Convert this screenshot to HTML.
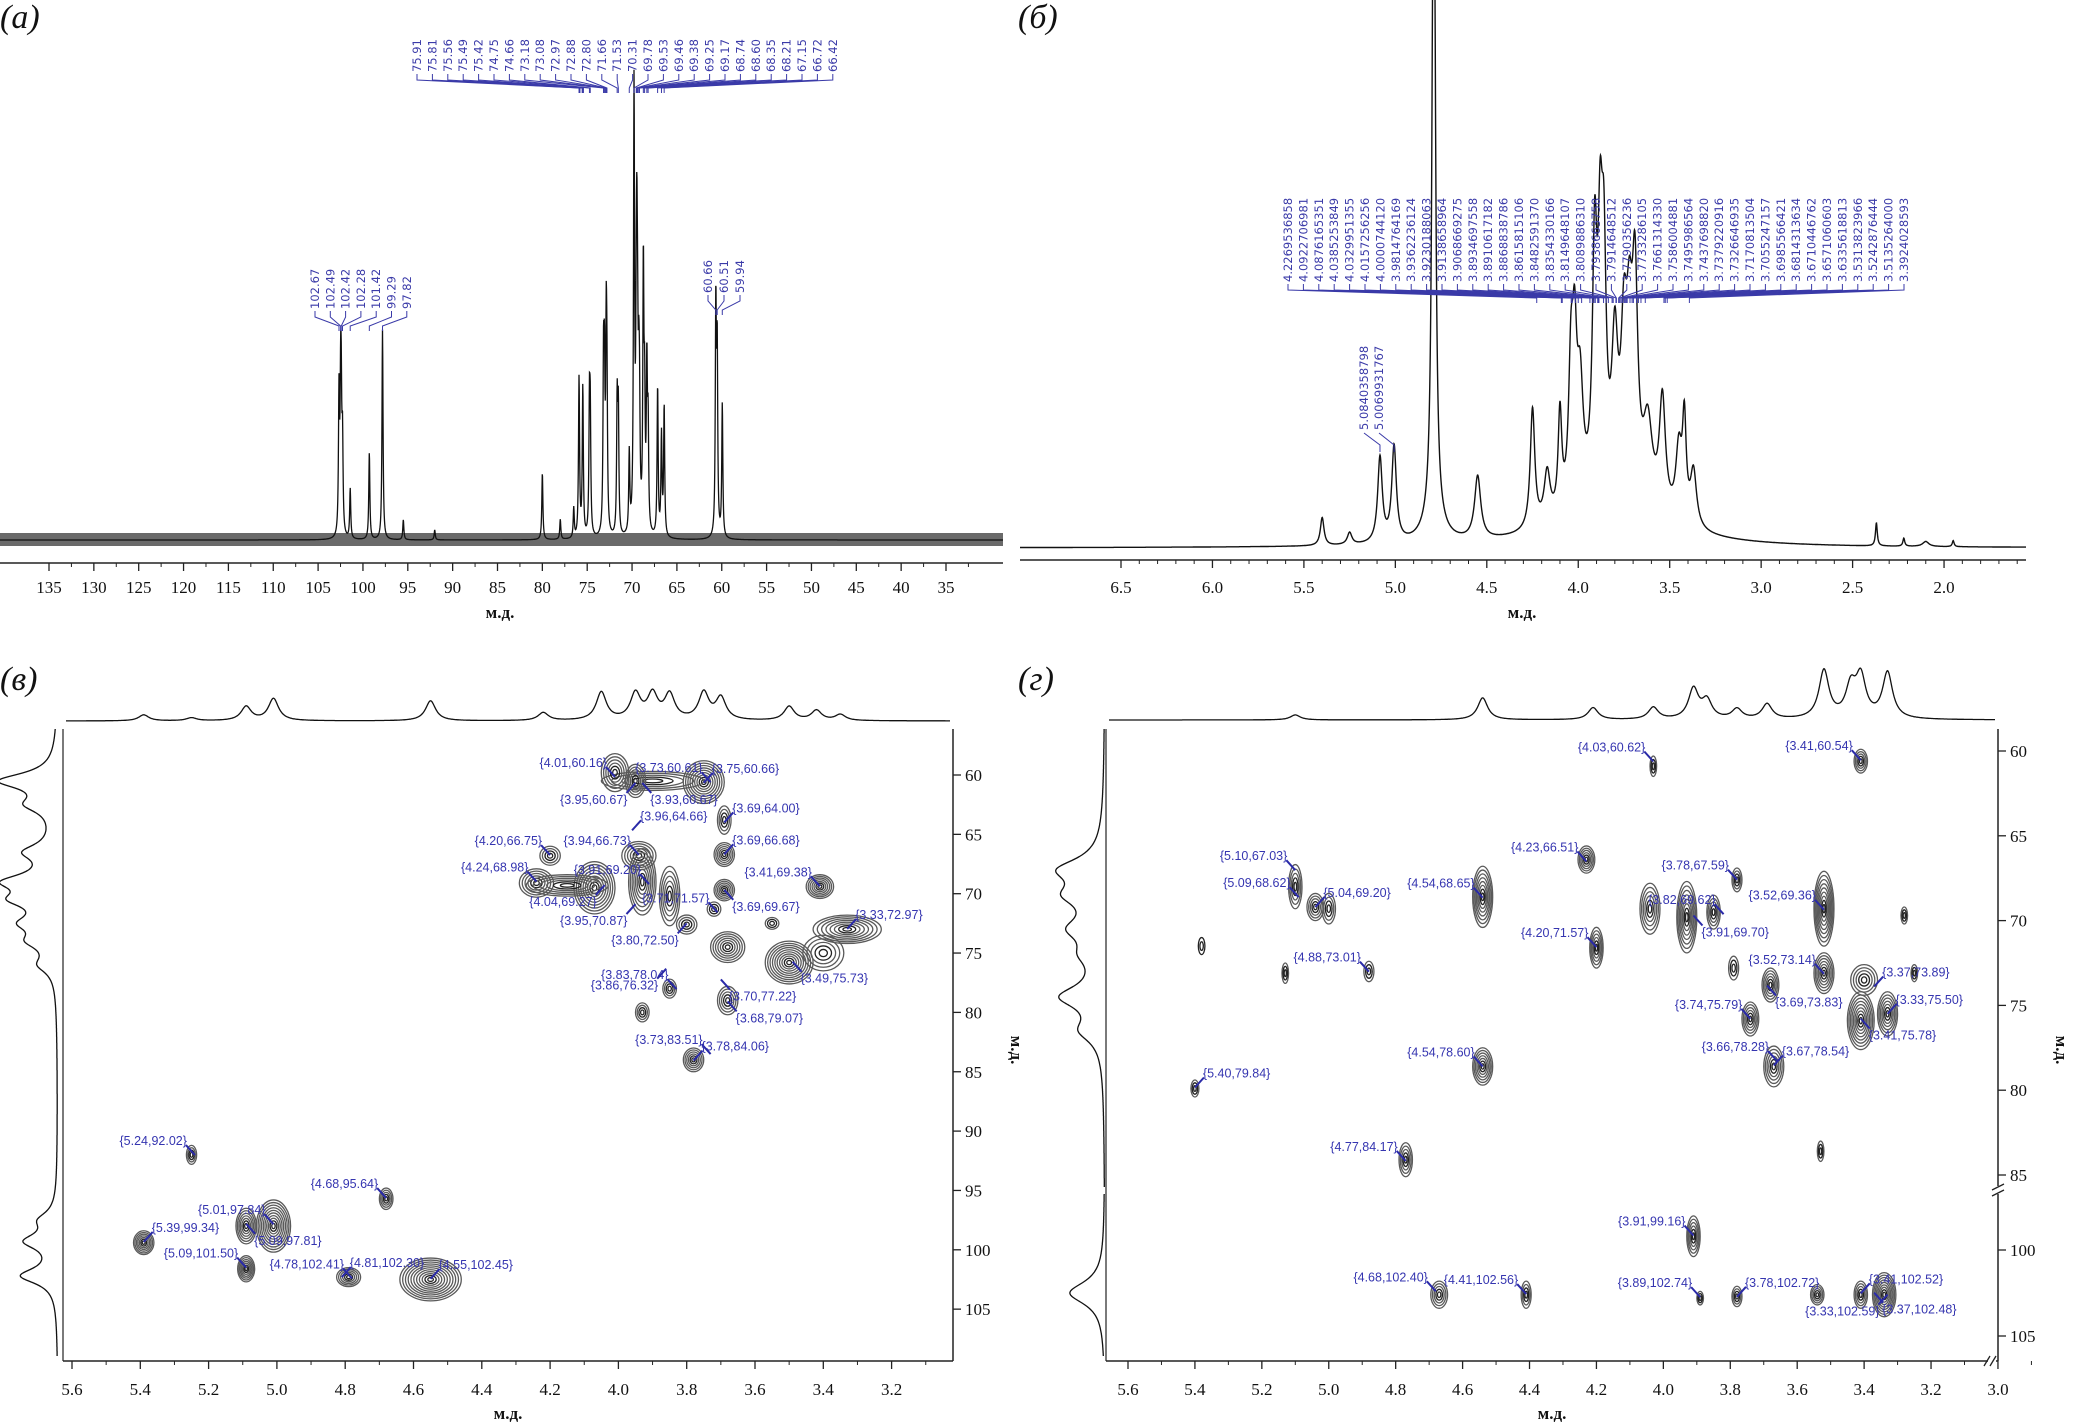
<!DOCTYPE html>
<html><head><meta charset="utf-8"><style>
html,body{margin:0;padding:0;background:#fff}
svg{display:block}
.tk{font-family:"Liberation Serif",serif;font-size:17px;fill:#111}
.lt{font-family:"Liberation Serif",serif;font-size:17px;font-weight:bold;fill:#111}
.pl{font-family:"Liberation Serif",serif;font-size:34px;font-style:italic;fill:#111}
.bl{font-family:"DejaVu Sans",sans-serif;font-size:11.5px;fill:#3a3aa8}
.cl{font-family:"Liberation Sans Narrow","Liberation Sans",sans-serif;font-size:12.5px;fill:#3535b0}
</style></head><body>
<svg id="fig" width="2081" height="1424" viewBox="0 0 2081 1424" xmlns="http://www.w3.org/2000/svg">
<text class="pl" x="0" y="28">(а)</text>
<text class="pl" x="1018" y="28">(б)</text>
<text class="pl" x="0" y="690">(в)</text>
<text class="pl" x="1018" y="690">(г)</text>
</svg>
<script>
// ---------- data ----------
const cPeaksPpm=[102.67,102.49,102.42,102.28,101.42,99.29,97.82,95.5,92,80,78,76.5,75.91,75.49,74.75,74.66,73.18,73.08,72.88,72.80,71.66,71.53,70.31,69.78,69.53,69.46,69.38,69.25,69.17,68.74,68.60,68.35,68.21,67.15,66.72,66.42,60.66,60.51,59.94];
const cPeaksInt=[140,120,110,90,50,87,210,20,10,67,20,30,160,150,120,110,155,140,180,120,130,120,80,440,150,200,120,110,100,260,120,160,100,150,100,130,227,180,133];
const cLabTop=["75.91","75.81","75.56","75.49","75.42","74.75","74.66","73.18","73.08","72.97","72.88","72.80","71.66","71.53","70.31","69.78","69.53","69.46","69.38","69.25","69.17","68.74","68.60","68.35","68.21","67.15","66.72","66.42"];
const cLabLeft=["102.67","102.49","102.42","102.28","101.42","99.29","97.82"];
const cLabRight=["60.66","60.51","59.94"];
const cTicks=[135,130,125,120,115,110,105,100,95,90,85,80,75,70,65,60,55,50,45,40,35];

const hPeaksPpm=[5.40,5.25,5.084,5.007,4.79,4.79,4.55,4.25,4.17,4.10,4.04,4.02,3.99,3.91,3.88,3.86,3.80,3.75,3.72,3.69,3.62,3.54,3.45,3.42,3.37,2.37,2.22,2.10,1.95,3.80];
const hPeaksInt=[28,12,85,95,800,20,63,120,50,100,130,140,110,235,210,200,140,140,135,200,80,113,70,95,55,23,8,5,6,40];
const hPeaksW=[0.012,0.015,0.015,0.015,0.01,0.06,0.02,0.015,0.02,0.012,0.015,0.015,0.02,0.015,0.015,0.015,0.02,0.02,0.02,0.018,0.03,0.02,0.02,0.012,0.02,0.006,0.006,0.02,0.006,0.3];
const hLabels=["4.2269536858","4.0922706981","4.0876165351","4.0385253849","4.0329951355","4.0157256256","4.0000744120","3.9814764169","3.9362236124","3.9230188063","3.9138658964","3.9068669275","3.8934697558","3.8910617182","3.8868838786","3.8615815106","3.8482591370","3.8354330166","3.8149648107","3.8089886310","3.7938663758","3.7914648512","3.7790356236","3.7733286105","3.7661314330","3.7586004881","3.7495986564","3.7437698820","3.7379220916","3.7326646935","3.7170813504","3.7055247157","3.6985566421","3.6814313634","3.6710446762","3.6571060603","3.6335618813","3.5313823966","3.5242876444","3.5135264000","3.3924028593"];
const hLabels2=["5.0840358798","5.0069931767"];
const hTicks=[6.5,6.0,5.5,5.0,4.5,4.0,3.5,3.0,2.5,2.0];

// HSQC (в)
const cBlobH=[3.75,3.90,4.01,3.95,3.69,3.69,4.20,3.94,3.93,4.07,4.24,4.15,3.85,3.80,3.69,3.41,3.72,3.55,3.33,3.68,3.50,3.40,3.85,3.68,3.93,3.78,5.25,4.68,5.01,5.09,5.39,5.09,4.79,4.55];
const cBlobC=[60.6,60.5,59.8,60.5,63.8,66.7,66.8,66.8,69.0,69.5,69.1,69.3,70.2,72.6,69.7,69.4,71.3,72.5,73.0,74.5,75.8,75.0,78.0,79.0,80.0,84.0,92.0,95.7,98.0,98.0,99.4,101.6,102.3,102.5];
const cBlobW=[0.06,0.15,0.04,0.03,0.02,0.03,0.03,0.05,0.04,0.06,0.05,0.12,0.03,0.03,0.03,0.04,0.02,0.02,0.10,0.05,0.07,0.06,0.02,0.03,0.02,0.03,0.015,0.02,0.05,0.03,0.03,0.025,0.035,0.09];
const cBlobHt=[1.8,0.8,1.6,1.4,1.2,1.0,0.8,1.2,2.8,2.2,1.2,0.9,2.5,0.8,0.9,1.0,0.6,0.5,1.2,1.3,1.8,1.5,0.8,1.2,0.8,1.0,0.8,0.9,2.2,1.5,1.0,1.1,0.8,1.8];
const cBlobN=[9,5,6,6,4,6,4,6,8,9,6,6,6,4,6,7,3,3,8,7,10,5,4,5,4,6,4,5,10,7,7,7,6,11];
const cLabTxt=["{4.01,60.16}","{3.73,60.61}","{3.75,60.66}","{3.95,60.67}","{3.93,60.67}","{3.69,64.00}","{4.20,66.75}","{3.94,66.73}","{3.96,64.66}","{3.69,66.68}","{4.24,68.98}","{3.91,69.20}","{3.41,69.38}","{4.04,69.27}","{3.71,71.57}","{3.69,69.67}","{3.33,72.97}","{3.95,70.87}","{3.80,72.50}","{3.83,78.04}","{3.86,76.32}","{3.49,75.73}","{3.70,77.22}","{3.68,79.07}","{3.73,83.51}","{3.78,84.06}","{5.24,92.02}","{4.68,95.64}","{5.01,97.84}","{5.39,99.34}","{5.09,97.81}","{5.09,101.50}","{4.78,102.41}","{4.81,102.30}","{4.55,102.45}"];
const cLabDir=["ul","ul","ur","ll","lr","ur","ul","ul","ur","ur","ul","ul","ul","ll","ul","lr","ur","ll","ll","ul","ll","lr","lr","lr","ul","ur","ul","ul","ul","ur","lr","ul","ul","ur","ur"];
const cProjTopH=[5.39,5.25,5.09,5.01,4.55,4.22,4.05,3.95,3.90,3.85,3.75,3.70,3.50,3.42,3.35];
const cProjTopI=[6,3,14,22,20,8,28,26,25,25,27,22,14,10,6];
const cProjLeftC=[60.5,62.5,66.5,69.0,70.5,72.5,74.0,76.0,97.5,99.3,102.2];
const cProjLeftI=[55,25,28,45,35,28,22,15,15,30,35];
const cXTicks=[5.6,5.4,5.2,5.0,4.8,4.6,4.4,4.2,4.0,3.8,3.6,3.4,3.2];
const cYTicks=[60,65,70,75,80,85,90,95,100,105];

// HMBC (г)
const dBlobH=[4.03,3.41,4.23,5.10,5.04,5.00,4.54,4.20,5.13,4.88,4.04,3.93,3.85,3.78,3.52,3.52,3.68,3.79,3.74,3.41,3.33,3.40,3.67,4.54,5.40,4.77,3.53,3.91,4.67,4.41,3.89,3.78,3.54,3.41,3.34,3.25,3.28,5.38];
const dBlobC=[60.9,60.6,66.4,68.0,69.2,69.3,68.6,71.6,73.1,73.0,69.3,69.8,69.5,67.6,69.3,73.1,73.8,72.8,75.8,75.9,75.5,73.5,78.6,78.6,79.9,84.1,83.6,99.2,102.6,102.6,102.8,102.7,102.6,102.6,102.6,73.1,69.7,71.5];
const dBlobW=[0.01,0.02,0.025,0.02,0.025,0.02,0.03,0.02,0.01,0.015,0.03,0.03,0.02,0.015,0.03,0.03,0.025,0.015,0.025,0.04,0.03,0.04,0.03,0.03,0.012,0.02,0.01,0.02,0.025,0.015,0.01,0.015,0.02,0.02,0.035,0.01,0.01,0.01];
const dBlobHt=[0.6,0.7,0.8,1.3,0.8,0.9,1.8,1.2,0.6,0.6,1.5,2.1,1.0,0.7,2.2,1.2,1.0,0.7,1.0,1.7,1.3,0.9,1.2,1.1,0.5,1.0,0.6,1.2,0.8,0.8,0.4,0.6,0.6,0.8,1.3,0.5,0.5,0.5];
const dBlobN=[3,5,6,5,5,4,8,6,3,3,6,8,5,4,9,7,6,3,6,9,7,5,6,7,3,5,3,6,5,4,3,4,5,5,9,3,3,2];
const dLabTxt=["{4.03,60.62}","{3.41,60.54}","{5.10,67.03}","{5.09,68.62}","{5.04,69.20}","{4.54,68.65}","{4.23,66.51}","{3.78,67.59}","{3.82,69.62}","{3.91,69.70}","{3.52,69.36}","{4.20,71.57}","{4.88,73.01}","{3.52,73.14}","{3.37,73.89}","{3.69,73.83}","{3.33,75.50}","{3.74,75.79}","{3.41,75.78}","{3.66,78.28}","{3.67,78.54}","{4.54,78.60}","{5.40,79.84}","{4.77,84.17}","{3.91,99.16}","{4.68,102.40}","{4.41,102.56}","{3.89,102.74}","{3.78,102.72}","{3.41,102.52}","{3.33,102.59}","{3.37,102.48}"];
const dLabDir=["ul","ul","ul","ul","ur","ul","ul","ul","ul","lr","ul","ul","ul","ul","ur","lr","ur","ul","lr","ul","ur","ul","ur","ul","ul","ul","ul","ul","ur","ur","ll","lr"];
const dProjTopH=[5.10,4.54,4.21,4.03,3.91,3.87,3.78,3.69,3.52,3.44,3.41,3.33];
const dProjTopI=[5,22,12,12,30,18,10,15,48,30,40,46];
const dProjLeftC=[67,68.5,70.5,72,74.5,76.5,102.5];
const dProjLeftI=[40,30,28,15,40,20,35];
const dXTicks=[5.6,5.4,5.2,5.0,4.8,4.6,4.4,4.2,4.0,3.8,3.6,3.4,3.2,3.0];
const dYTicks=[60,65,70,75,80,85,100,105];

// ---------- helpers ----------
const svg=document.getElementById('fig');
const NS='http://www.w3.org/2000/svg';
function mk(tag,at,parent){const e=document.createElementNS(NS,tag);for(const k in at)e.setAttribute(k,at[k]);(parent||svg).appendChild(e);return e;}
function grp(name){const g=document.createElementNS(NS,'g');


svg.appendChild(g);return g;}
function lor(x,x0,w){const d=(x-x0)/w;return 1/(1+d*d);}
function fmt(v,d){return v.toFixed(d);}

// ---------- Panel a (13C) ----------
const ax=p=>49+(135-p)*8.97, aBase=540;
(function(){
const g=grp('panel-a-13c-spectrum');
const noise=mk('rect',{x:0,y:aBase-7,width:1003,height:13,fill:'#6a6a6a'},g);


let d='';for(let x=0;x<=1003;x+=0.25){const p=135-(x-49)/8.97;let s=0;for(let i=0;i<cPeaksPpm.length;i++)s+=cPeaksInt[i]*lor(p,cPeaksPpm[i],0.07);d+=(x?'L':'M')+x.toFixed(2)+','+(aBase-s).toFixed(1);}
const pth=mk('path',{d:d,fill:'none',stroke:'#111','stroke-width':1.3},g);


const axg=grp('panel-a-x-axis');
mk('line',{x1:0,y1:563,x2:1003,y2:563,stroke:'#222','stroke-width':1.5},axg);
cTicks.forEach(t=>{mk('line',{x1:ax(t),y1:563,x2:ax(t),y2:571,stroke:'#222','stroke-width':1.3},axg);mk('line',{x1:ax(t-2.5),y1:563,x2:ax(t-2.5),y2:567,stroke:'#222'},axg);
const tx=mk('text',{x:ax(t),y:593,'text-anchor':'middle',class:'tk'},axg);tx.textContent=t;

});
const xl=mk('text',{x:500,y:618,'text-anchor':'middle',class:'lt'},axg);xl.textContent='м.д.';


const lg=grp('panel-a-peak-labels');
function fan(labels,x0,dx,bottom,tickY,convY){labels.forEach((l,i)=>{const x=x0+i*dx,p=parseFloat(l);
const t=mk('text',{x:x+4,y:bottom,transform:`rotate(-90 ${x+4} ${bottom})`,class:'bl'},lg);t.textContent=l;


mk('path',{d:`M${x},${bottom+2}V${tickY}L${ax(p)},${convY}V${convY+5}`,fill:'none',stroke:'#3a3aa8','stroke-width':1},lg);});}
fan(cLabTop,417,15.4,72,80,88);
fan(cLabLeft,315,15.3,309,317,326);
fan(cLabRight,708,16,293,301,310);
})();

// ---------- Panel b (1H) ----------
const bx=p=>1121+(6.5-p)*182.9, bBase=548;
(function(){
const g=grp('panel-b-1h-spectrum');
let d='';let first=true;for(let x=1020;x<=2026;x+=0.25){const p=6.5-(x-1121)/182.9;let s=0;for(let i=0;i<hPeaksPpm.length;i++)s+=hPeaksInt[i]*lor(p,hPeaksPpm[i],hPeaksW[i]);let y=Math.max(-5,bBase-s);d+=(first?'M':'L')+x.toFixed(2)+','+y.toFixed(1);first=false;}
const pth=mk('path',{d:d,fill:'none',stroke:'#111','stroke-width':1.4},g);


const axg=grp('panel-b-x-axis');
mk('line',{x1:1020,y1:560,x2:2026,y2:560,stroke:'#222','stroke-width':1.5},axg);
hTicks.forEach(t=>{mk('line',{x1:bx(t),y1:560,x2:bx(t),y2:568,stroke:'#222','stroke-width':1.3},axg);for(let k=1;k<5;k++)mk('line',{x1:bx(t-0.1*k),y1:560,x2:bx(t-0.1*k),y2:564,stroke:'#222'},axg);
const tx=mk('text',{x:bx(t),y:593,'text-anchor':'middle',class:'tk'},axg);tx.textContent=fmt(t,1);

});
const xl=mk('text',{x:1522,y:618,'text-anchor':'middle',class:'lt'},axg);xl.textContent='м.д.';


const lg=grp('panel-b-peak-labels');
hLabels.forEach((l,i)=>{const x=1288+i*15.4,p=parseFloat(l);
const t=mk('text',{x:x+4,y:282,transform:`rotate(-90 ${x+4} 282)`,class:'bl'},lg);t.textContent=l;


mk('path',{d:`M${x},284V290L${bx(p)},298V303`,fill:'none',stroke:'#3a3aa8','stroke-width':1},lg);});
hLabels2.forEach((l,i)=>{const x=1364+i*15,p=parseFloat(l);
const t=mk('text',{x:x+4,y:430,transform:`rotate(-90 ${x+4} 430)`,class:'bl'},lg);t.textContent=l;


mk('path',{d:`M${x},433L${bx(p)},445V452`,fill:'none',stroke:'#3a3aa8','stroke-width':1},lg);});
})();

// ---------- 2D panels ----------
function panel2D(o){
const g=grp(o.name);
mk('line',{x1:o.L,y1:o.B,x2:o.R,y2:o.B,stroke:'#222','stroke-width':1.5},g);
mk('line',{x1:o.R,y1:o.T,x2:o.R,y2:o.B,stroke:'#222','stroke-width':1.5},g);
mk('line',{x1:o.L,y1:o.T,x2:o.L,y2:o.B,stroke:'#222','stroke-width':1.2},g);
o.xt.forEach(t=>{const x=o.X(t);mk('line',{x1:x,y1:o.B,x2:x,y2:o.B+8,stroke:'#222','stroke-width':1.3},g);mk('line',{x1:o.X(t-0.1),y1:o.B,x2:o.X(t-0.1),y2:o.B+4,stroke:'#222'},g);
const tx=mk('text',{x:x,y:o.B+34,'text-anchor':'middle',class:'tk'},g);tx.textContent=fmt(t,1);

});
o.yt.forEach(t=>{const y=o.Y(t);mk('line',{x1:o.R,y1:y,x2:o.R+8,y2:y,stroke:'#222','stroke-width':1.3},g);
const tx=mk('text',{x:o.R+12,y:y+6,class:'tk'},g);tx.textContent=t;

});
const xl=mk('text',{x:(o.L+o.R)/2,y:o.B+58,'text-anchor':'middle',class:'lt'},g);xl.textContent='м.д.';


const yl=mk('text',{x:o.R+58,y:1050,transform:`rotate(90 ${o.R+58} 1050)`,'text-anchor':'middle',class:'lt'},g);yl.textContent='м.д.';


let d='';let f=true;for(let x=o.L+3;x<=o.R-3;x+=0.5){const p=o.Xinv(x);let s=0;for(let i=0;i<o.pth.length;i++)s+=o.pti[i]*lor(p,o.pth[i],0.018);d+=(f?'M':'L')+x.toFixed(1)+','+(o.topBase-s).toFixed(1);f=false;}
const tp=mk('path',{d:d,fill:'none',stroke:'#111','stroke-width':1.3},g);


d='';f=true;for(let y=o.T;y<=o.B-5;y+=0.5){const c=o.Yinv(y);if(c===null){f=true;continue;}let s=0;for(let i=0;i<o.plc.length;i++)s+=o.pli[i]*lor(c,o.plc[i],0.8);d+=(f?'M':'L')+(o.leftBase-s).toFixed(1)+','+y.toFixed(1);f=false;}
const lp=mk('path',{d:d,fill:'none',stroke:'#111','stroke-width':1.3},g);


const cg=grp(o.name+'-contours');
for(let i=0;i<o.bh.length;i++){const cx=o.X(o.bh[i]),cy=o.Y(o.bc[i]);const rx=Math.max(2,o.bw[i]*o.sx),ry=Math.max(3,o.bht[i]*o.sy);const n=o.bn[i];
const bg=document.createElementNS(NS,'g');


cg.appendChild(bg);
for(let k=n;k>=1;k--){const f2=k/n;mk('ellipse',{cx:cx,cy:cy,rx:(rx*f2).toFixed(1),ry:(ry*f2).toFixed(1),fill:'none',stroke:k<=2?'#222':'#5a5a5a','stroke-width':1.3},bg);}
}
const lg=grp(o.name+'-labels');
o.lt.forEach((t,i)=>{const v=t.slice(1,-1).split(',');const px=o.X(parseFloat(v[0])),py=o.Y(parseFloat(v[1]));const dir=o.ld[i];
const sx=dir[1]==='l'?-1:1,sy=dir[0]==='u'?-1:1;
mk('line',{x1:px,y1:py,x2:px+sx*9,y2:py+sy*10,stroke:'#2a2aa8','stroke-width':2},lg);
const tx=mk('text',{x:px+sx*8,y:sy<0?py-10:py+21,'text-anchor':sx<0?'end':'start',class:'cl'},lg);tx.textContent=t;

});
return g;}

const cX=h=>72+(5.6-h)*341.5, cY=c=>775+(c-60)*11.87;
panel2D({name:'panel-c-hsqc',L:63,R:953,T:729,B:1361,X:cX,Xinv:x=>5.6-(x-72)/341.5,Y:cY,Yinv:y=>60+(y-775)/11.87,sx:341.5,sy:11.87,
xt:cXTicks,yt:cYTicks,pth:cProjTopH,pti:cProjTopI,topBase:721,plc:cProjLeftC,pli:cProjLeftI,leftBase:58,
bh:cBlobH,bc:cBlobC,bw:cBlobW,bht:cBlobHt,bn:cBlobN,lt:cLabTxt,ld:cLabDir});

const dX=h=>1128+(5.6-h)*334.6;
const dY=c=>c<=90?751+(c-60)*16.96:1250+(c-100)*17.2;
const dYinv=y=>{if(y<=1187)return 60+(y-751)/16.96;if(y<1194)return null;return 100+(y-1250)/17.2;};
panel2D({name:'panel-d-hmbc',L:1106,R:1998,T:729,B:1361,X:dX,Xinv:x=>5.6-(x-1128)/334.6,Y:dY,Yinv:dYinv,sx:334.6,sy:17,
xt:dXTicks,yt:dYTicks,pth:dProjTopH,pti:dProjTopI,topBase:720,plc:dProjLeftC,pli:dProjLeftI,leftBase:1105,
bh:dBlobH,bc:dBlobC,bw:dBlobW,bht:dBlobHt,bn:dBlobN,lt:dLabTxt,ld:dLabDir});
const br=grp('panel-d-axis-breaks');
mk('rect',{x:1994,y:1186,width:10,height:8,fill:'#fff'},br);
mk('path',{d:'M1992,1190l12,-6M1992,1196l12,-6',stroke:'#222','stroke-width':1.3,fill:'none'},br);
mk('rect',{x:1988,y:1356,width:8,height:10,fill:'#fff'},br);
mk('path',{d:'M1984,1366l6,-10M1990,1366l6,-10',stroke:'#222','stroke-width':1.3,fill:'none'},br);
</script>
</body></html>
